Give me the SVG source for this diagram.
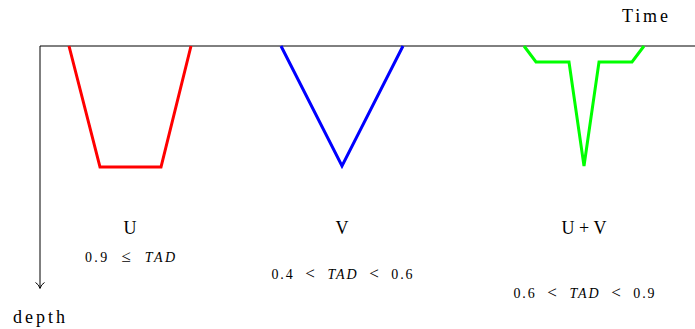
<svg xmlns="http://www.w3.org/2000/svg" width="695" height="329" viewBox="0 0 695 329">
<style>
text{font-family:"Liberation Serif","DejaVu Serif",serif;fill:#000;text-anchor:middle}
.lbl{font-size:18px}
.cond{font-size:14px}
.m{font-style:italic}
.rel{font-size:17px}
.curve{fill:none;stroke-width:3;stroke-linejoin:miter}
.axis{fill:none;stroke:#000;stroke-width:1}
</style>
<g id="connectors">
<path class="axis" d="M695,46 H40 V288"/>
<path class="axis" d="M35.5,282.5 Q39,284.5 40,288.5 Q41,284.5 44.5,282.5"/>
</g>
<g id="U">
<polyline class="curve" stroke="#ff0000" points="69,46 100,167 161,167 191,46"/>
<text class="lbl" x="130" y="234">U</text>
<text class="cond" x="130" y="262" textLength="90" lengthAdjust="spacing">0.9&#160;&#160;<tspan class="rel">≤</tspan>&#160;&#160;<tspan class="m">TAD</tspan></text>
</g>
<g id="V">
<polyline class="curve" stroke="#0000ff" points="281,46 342,166 403,46"/>
<text class="lbl" x="342" y="234">V</text>
<text class="cond" x="342" y="279" textLength="141" lengthAdjust="spacing">0.4&#160;&#160;<tspan class="rel">&lt;</tspan>&#160;&#160;<tspan class="m">TAD</tspan>&#160;&#160;<tspan class="rel">&lt;</tspan>&#160;&#160;0.6</text>
</g>
<g id="UV">
<polyline class="curve" stroke="#00ff00" points="524,46 536,62 569,62 584,166 599,62 632,62 644,46"/>
<text class="lbl" x="584" y="234" textLength="45" lengthAdjust="spacing">U+V</text>
<text class="cond" x="584" y="298" textLength="141" lengthAdjust="spacing">0.6&#160;&#160;<tspan class="rel">&lt;</tspan>&#160;&#160;<tspan class="m">TAD</tspan>&#160;&#160;<tspan class="rel">&lt;</tspan>&#160;&#160;0.9</text>
</g>
<g id="labels">
<text class="lbl" x="645" y="22" textLength="46" lengthAdjust="spacing">Time</text>
<text class="lbl" x="39" y="323" textLength="52" lengthAdjust="spacing">depth</text>
</g>
</svg>
